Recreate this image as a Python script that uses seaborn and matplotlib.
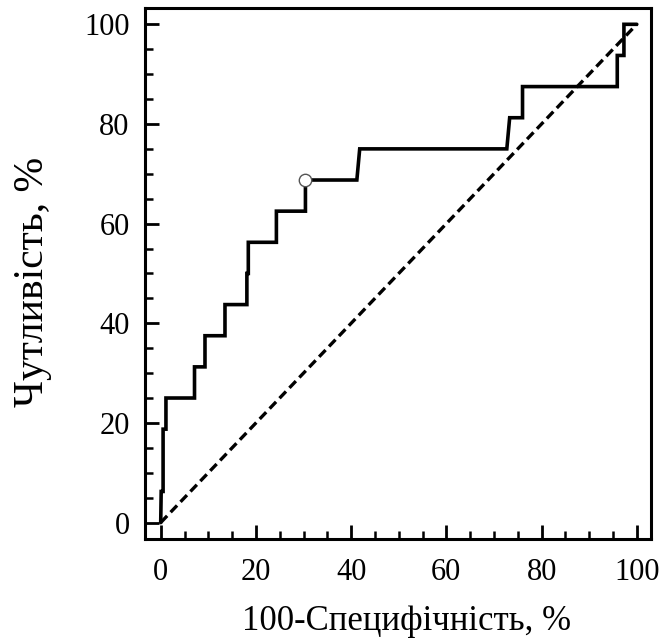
import matplotlib
matplotlib.use("Agg")
import matplotlib.pyplot as plt
import seaborn as sns
import pandas as pd
from matplotlib.ticker import MultipleLocator

# ROC curve vertices (100-Specificity, Sensitivity), %
fpr = [0, 0.1, 0.5, 0.5, 1.1, 1.1, 7.1, 7.1, 9.3, 9.3, 13.5, 13.5, 18.1, 18.1, 18.4, 18.4,
       24.3, 24.3, 30.4, 30.4, 41.2, 41.8, 72.7, 73.3, 76.0, 76.0, 95.9, 95.9, 97.3, 97.3, 100]
tpr = [0, 6.25, 6.25, 18.75, 18.75, 25, 25, 31.25, 31.25, 37.5, 37.5, 43.75, 43.75, 50, 50, 56.25,
       56.25, 62.5, 62.5, 68.75, 68.75, 75, 75, 81.25, 81.25, 87.5, 87.5, 93.75, 93.75, 100, 100]
# reference diagonal
diag_x = [0, 100]
diag_y = [0, 100]
# optimal cut-off point
opt_x = [30.4]
opt_y = [68.75]

xticks = [0, 20, 40, 60, 80, 100]
yticks = [0, 20, 40, 60, 80, 100]
xlabel = "100-Специфічність, %"
ylabel = "Чутливість, %"

sns.set_theme(style="white")
plt.rcParams["font.family"] = ["Liberation Serif", "DejaVu Serif"]

fig = plt.figure(figsize=(6.63, 6.43), dpi=100)
ax = fig.add_axes([0.2187, 0.1617, 0.7633, 0.8253])

roc = pd.DataFrame({"x": fpr, "y": tpr})
dg = pd.DataFrame({"x": diag_x, "y": diag_y})
op = pd.DataFrame({"x": opt_x, "y": opt_y})

sns.lineplot(data=dg, x="x", y="y", ax=ax, color="black", linewidth=2.4,
             linestyle=(0, (2.8, 1.5)), sort=False, estimator=None)
sns.lineplot(data=roc, x="x", y="y", ax=ax, color="black", linewidth=2.6,
             sort=False, estimator=None, solid_joinstyle="miter")
sns.scatterplot(data=op, x="x", y="y", ax=ax, s=80, facecolor="white",
                edgecolor="#555555", linewidth=1.0, zorder=5)

ax.set_xlim(-3.3, 103)
ax.set_ylim(-3.3, 103.2)
ax.set_xticks(xticks)
ax.set_yticks(yticks)
ax.xaxis.set_minor_locator(MultipleLocator(5))
ax.yaxis.set_minor_locator(MultipleLocator(5))
ax.tick_params(which="major", direction="in", length=10, width=2.0, labelsize=22,
               color="black", labelcolor="black", bottom=True, left=True)
ax.tick_params(which="minor", direction="in", length=5.5, width=1.8, color="black",
               bottom=True, left=True)
ax.tick_params(axis="x", which="major", pad=14)
ax.tick_params(axis="y", which="major", pad=11)
for s in ax.spines.values():
    s.set_linewidth(2.2)
    s.set_color("black")
    s.set_visible(True)

ax.set_xlabel(xlabel, fontsize=25, color="black")
ax.set_ylabel(ylabel, fontsize=30, color="black")
ax.xaxis.set_label_coords(0.516, -0.125)
ax.yaxis.set_label_coords(-0.184, 0.484)

fig.savefig("out.png", dpi=100, facecolor="white")
